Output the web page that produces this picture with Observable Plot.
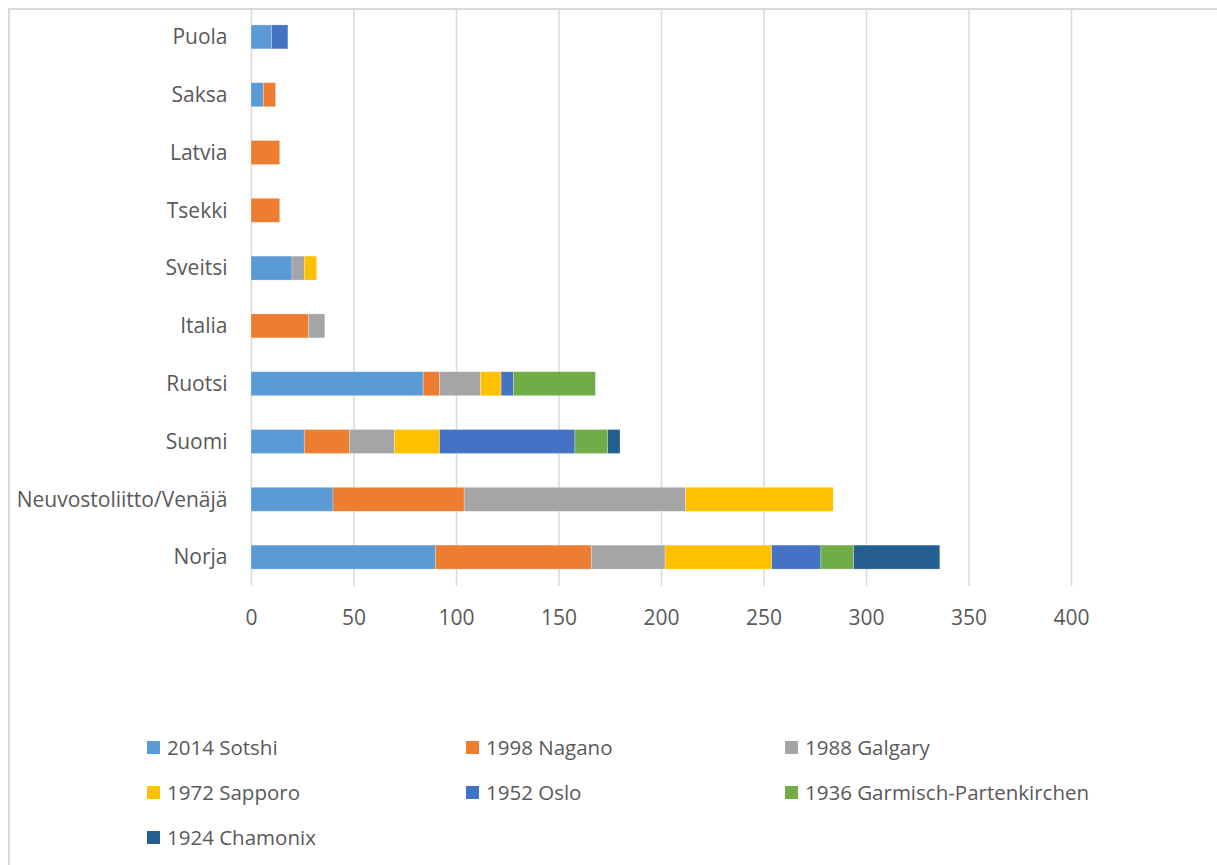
<!DOCTYPE html>
<html>
<head>
<meta charset="utf-8">
<script src="https://cdn.jsdelivr.net/npm/d3@7"></script>
<script src="https://cdn.jsdelivr.net/npm/@observablehq/plot@0.6"></script>
<style>
  html, body { margin: 0; padding: 0; background: #fff; overflow: hidden; }
  body { width: 1217px; height: 865px; position: relative; font-family: "Open Sans", sans-serif; }
  #frame { position: absolute; left: 8px; top: 8px; width: 1300px; height: 950px; border: 2px solid #d9d9d9; box-sizing: border-box; }
  #chart { position: absolute; left: 0; top: 0; }
  #legend { position: absolute; left: 147px; top: 735px; display: grid; grid-template-columns: 319px 319px 319px; grid-auto-rows: 45px; }
  .item { display: flex; align-items: flex-start; font-size: 20.5px; color: #595959; line-height: 24px; }
  .sw { width: 13px; height: 13px; margin-right: 7px; margin-top: 6px; flex: none; }
</style>
</head>
<body>
<div id="frame"></div>
<div id="chart"></div>
<div id="legend"></div>
<script>
const countries = ["Norja", "Neuvostoliitto/Venäjä", "Suomi", "Ruotsi", "Italia", "Sveitsi", "Tsekki", "Latvia", "Saksa", "Puola"];
const series = ["2014 Sotshi", "1998 Nagano", "1988 Galgary", "1972 Sapporo", "1952 Oslo", "1936 Garmisch-Partenkirchen", "1924 Chamonix"];
const colors = ["#5B9BD5", "#ED7D31", "#A5A5A5", "#FFC000", "#4472C4", "#70AD47", "#255E91"];
const sotshi   = [90, 40, 26, 84, 0, 20, 0, 0, 6, 10];
const nagano   = [76, 64, 22, 8, 28, 0, 14, 14, 6, 0];
const galgary  = [36, 108, 22, 20, 8, 6, 0, 0, 0, 0];
const sapporo  = [52, 72, 22, 10, 0, 6, 0, 0, 0, 0];
const oslo     = [24, 0, 66, 6, 0, 0, 0, 0, 0, 8];
const garmisch = [16, 0, 16, 40, 0, 0, 0, 0, 0, 0];
const chamonix = [42, 0, 6, 0, 0, 0, 0, 0, 0, 0];
const xTicks = [0, 50, 100, 150, 200, 250, 300, 350, 400];

const seriesValues = [sotshi, nagano, galgary, sapporo, oslo, garmisch, chamonix];
const data = [];
series.forEach((s, i) => {
  countries.forEach((c, j) => {
    data.push({country: c, series: s, value: seriesValues[i][j]});
  });
});

const chart = Plot.plot({
  width: 1217,
  height: 640,
  marginLeft: 251,
  marginRight: 146,
  marginTop: 8,
  marginBottom: 54,
  style: {fontFamily: "'Open Sans', sans-serif", fontSize: "21px", color: "#595959", background: "transparent"},
  x: {domain: [0, 400], ticks: xTicks, label: null},
  y: {domain: countries.slice().reverse(), paddingInner: 0.585, paddingOuter: 0.2925, round: false, label: null},
  color: {domain: series, range: colors},
  marks: [
    Plot.ruleX(xTicks, {stroke: "#d9d9d9", strokeWidth: 1.5}),
    Plot.barX(data, Plot.stackX({
      x: "value", y: "country", fill: "series",
      order: series, stroke: "#ffffff", strokeOpacity: 0.35, strokeWidth: 0.75
    })),
    Plot.axisX({ticks: xTicks, tickSize: 0, tickPadding: 24, label: null, fill: "#595959"}),
    Plot.axisY({tickSize: 0, tickPadding: 24, label: null, fill: "#595959"})
  ]
});
document.getElementById("chart").appendChild(chart);

const legend = document.getElementById("legend");
series.forEach((s, i) => {
  const item = document.createElement("div");
  item.className = "item";
  const sw = document.createElement("span");
  sw.className = "sw";
  sw.style.background = colors[i];
  const t = document.createElement("span");
  t.textContent = s;
  item.appendChild(sw);
  item.appendChild(t);
  legend.appendChild(item);
});
</script>
</body>
</html>
